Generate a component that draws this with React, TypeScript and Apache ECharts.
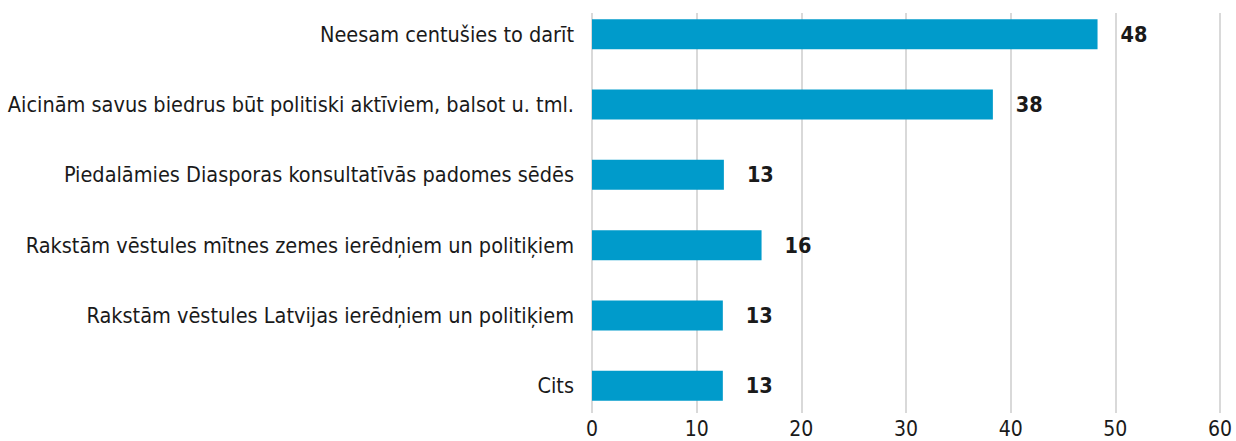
import React, { useEffect, useRef } from "react";
import * as echarts from "echarts";

const categories = [
  "Neesam centušies to darīt",
  "Aicinām savus biedrus būt politiski aktīviem, balsot u. tml.",
  "Piedalāmies Diasporas konsultatīvās padomes sēdēs",
  "Rakstām vēstules mītnes zemes ierēdņiem un politiķiem",
  "Rakstām vēstules Latvijas ierēdņiem un politiķiem",
  "Cits",
];
const values = [48.3, 38.3, 12.6, 16.2, 12.5, 12.5];
const xTicks = [0, 60, 10];

const FONT = "'DejaVu Sans Condensed', 'Liberation Sans Narrow', sans-serif";

export default function App() {
  const ref = useRef<HTMLDivElement>(null);
  useEffect(() => {
    const chart = echarts.init(ref.current!, null, { renderer: "svg" });
    chart.setOption({
      animation: false,
      grid: [
        { left: 592, right: 16, top: -1, bottom: 20, containLabel: false, outerBoundsMode: "none" },
        { left: 592, right: 16, top: 13, bottom: 28, containLabel: false, outerBoundsMode: "none" },
      ],
      xAxis: [
        {
          gridIndex: 0,
          type: "value",
          min: xTicks[0],
          max: xTicks[1],
          interval: xTicks[2],
          axisLine: { show: false },
          axisTick: { show: false },
          axisLabel: { show: false },
          splitLine: { show: false },
        },
        {
          gridIndex: 1,
          type: "value",
          min: xTicks[0],
          max: xTicks[1],
          interval: xTicks[2],
          axisLine: { show: false },
          axisTick: { show: false },
          axisLabel: {
            color: "#1a1a1a",
            fontFamily: FONT,
            fontSize: 21,
            lineHeight: 21,
            margin: 5,
          },
          splitLine: { show: true, lineStyle: { color: "#d9d9d9", width: 2 } },
        },
      ],
      yAxis: [
        {
          gridIndex: 0,
          type: "category",
          inverse: true,
          data: categories,
          axisLine: { show: false },
          axisTick: { show: false },
          axisLabel: {
            color: "#1a1a1a",
            fontFamily: FONT,
            fontSize: 21.5,
            margin: 18,
          },
        },
        {
          gridIndex: 1,
          type: "value",
          show: false,
        },
      ],
      series: [
        {
          type: "bar",
          xAxisIndex: 0,
          yAxisIndex: 0,
          data: values,
          barWidth: 30,
          itemStyle: { color: "#009BCB" },
          label: {
            show: true,
            position: "right",
            distance: 23,
            color: "#1a1a1a",
            fontFamily: FONT,
            fontWeight: "bold",
            fontSize: 21.5,
            formatter: (p: any) => String(Math.round(p.value)),
          },
        },
      ],
    });
    return () => chart.dispose();
  }, []);
  return <div ref={ref} style={{ width: 1236, height: 441, position: "absolute", left: 0, top: 0 }} />;
}
